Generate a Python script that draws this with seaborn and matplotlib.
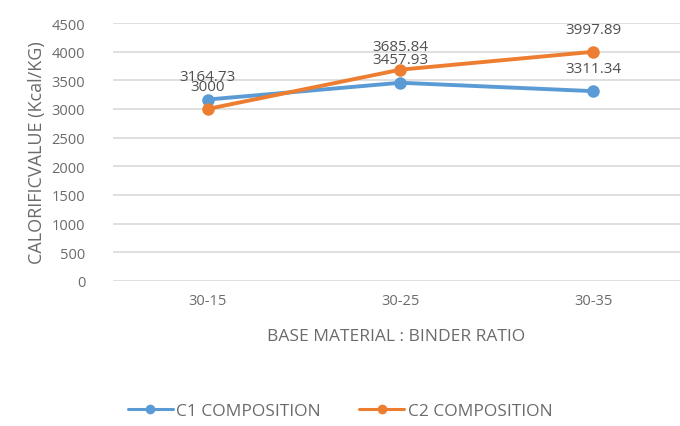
import pandas as pd
import matplotlib.pyplot as plt
import seaborn as sns

# values
ratios = ['30-15', '30-25', '30-35']
c1_values = [3164.73, 3457.93, 3311.34]
c2_values = [3000, 3685.84, 3997.89]
series_names = ['C1 COMPOSITION', 'C2 COMPOSITION']
y_ticks = [0, 500, 1000, 1500, 2000, 2500, 3000, 3500, 4000, 4500]

rows = []
for name, vals in zip(series_names, [c1_values, c2_values]):
    for r, v in zip(ratios, vals):
        rows.append({'Ratio': r, 'Value': v, 'Series': name})
df = pd.DataFrame(rows)

sns.set_style('white')
plt.rcParams['font.family'] = ['Open Sans', 'DejaVu Sans']

text_color = '#6b6b6b'
palette = {'C1 COMPOSITION': '#5B9BD5', 'C2 COMPOSITION': '#ED7D31'}

fig = plt.figure(figsize=(6.8, 4.27), dpi=100)
ax = fig.add_axes([113 / 680, 1 - 282 / 427, 1 - 113 / 680, (282 - 24) / 427])

sns.lineplot(data=df, x='Ratio', y='Value', hue='Series', palette=palette,
             marker='o', markersize=9, markeredgewidth=0, linewidth=2.8,
             sort=False, ax=ax)

# data labels above each point
for name, vals in zip(series_names, [c1_values, c2_values]):
    for i, v in enumerate(vals):
        ax.annotate(f'{v:g}', (i, v), xytext=(0, 11), textcoords='offset points',
                    ha='center', va='bottom', fontsize=11, color='#505050')

ax.set_ylim(0, 4500)
ax.set_xlim(-0.49, 2.45)
ax.set_yticks(y_ticks)
ax.yaxis.grid(True, color='#d9d9d9', linewidth=1.2)
ax.xaxis.grid(False)
for s in ax.spines.values():
    s.set_visible(False)
ax.tick_params(axis='both', length=0, labelsize=10.5, colors=text_color)
ax.tick_params(axis='y', pad=20)
ax.tick_params(axis='x', pad=9)

ax.set_xlabel('BASE MATERIAL : BINDER RATIO', fontsize=12.5, color=text_color, labelpad=14)
ax.set_ylabel('CALORIFICVALUE (Kcal/KG)', fontsize=13, color=text_color, labelpad=4)

handles, labels = ax.get_legend_handles_labels()
for h in handles:
    h.set_linewidth(2.2)
    h.set_markersize(7)
ax.legend_.remove()
fig.legend(handles, labels, loc='center', bbox_to_anchor=(0.5, 1 - 412 / 427), ncol=2,
           frameon=False, fontsize=12.5, handlelength=2.6, columnspacing=2.2,
           labelcolor=text_color, handletextpad=0.2)

plt.savefig('out.png', dpi=100)
plt.close()
